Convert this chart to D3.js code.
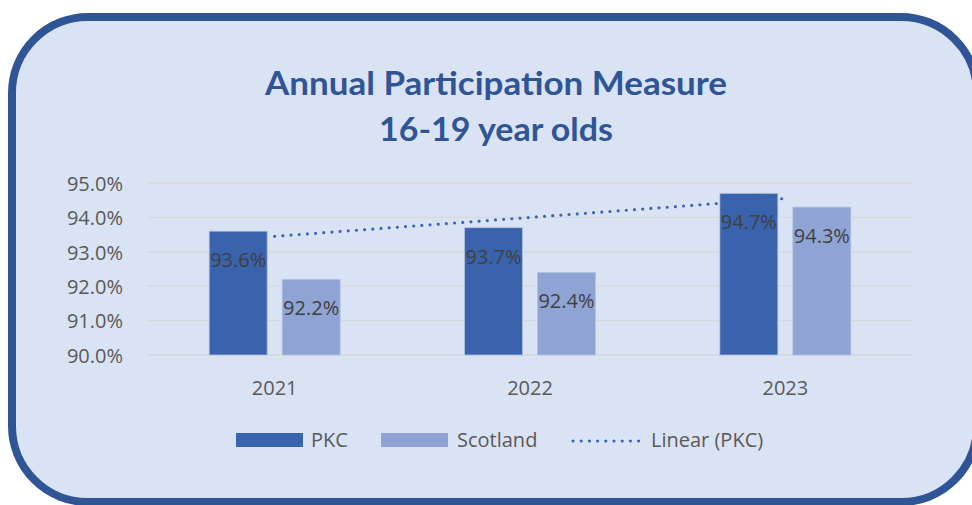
<!DOCTYPE html>
<html>
<head>
<meta charset="utf-8">
<script src="https://cdn.jsdelivr.net/npm/d3@7"></script>
<style>
  html, body { margin: 0; padding: 0; background: #ffffff; }
  svg { display: block; }
</style>
</head>
<body>
<svg id="chart" width="972" height="505"></svg>
<script>
// ---- data ----
const categories = ["2021", "2022", "2023"];
const seriesNames = ["PKC", "Scotland"];
const pkcValues = [93.6, 93.7, 94.7];
const scotlandValues = [92.2, 92.4, 94.3];
const yTicks = [90, 91, 92, 93, 94, 95];
const titleLines = ["Annual Participation Measure", "16-19 year olds"];
const legendLabels = ["PKC", "Scotland", "Linear (PKC)"];

// ---- styles ----
const colors = { PKC: "#3A63AD", Scotland: "#8FA4D5" };
const trendColor = "#3D66B4";
const textGrey = "#595959";
const font = "'Open Sans', 'DejaVu Sans', sans-serif";

const svg = d3.select("#chart");

// background rounded frame
svg.append("rect")
  .attr("x", 12).attr("y", 17)
  .attr("width", 965).attr("height", 485)
  .attr("rx", 76).attr("ry", 76)
  .attr("fill", "#DAE3F3")
  .attr("stroke", "#2F5597")
  .attr("stroke-width", 8);

// title
const title = svg.append("g");
titleLines.forEach((t, i) => {
  title.append("text")
    .attr("x", 496)
    .attr("y", i === 0 ? 95 : 141)
    .attr("text-anchor", "middle")
    .attr("font-family", "Lato, 'Open Sans', sans-serif")
    .attr("font-weight", "bold")
    .attr("font-size", 33)
    .attr("fill", "#2F5597")
    .attr("textLength", i === 0 ? 462 : 234)
    .attr("lengthAdjust", "spacingAndGlyphs")
    .text(t);
});

// scales
const x = d3.scaleBand().domain(categories).range([147, 913]).padding(0);
const xSub = d3.scaleBand().domain(seriesNames).range([0, x.bandwidth()])
  .paddingInner(0.205).paddingOuter(0.852);
const y = d3.scaleLinear().domain([90, 95]).range([355, 183]);

// gridlines
svg.append("g").selectAll("line").data(yTicks).join("line")
  .attr("x1", 147).attr("x2", 913)
  .attr("y1", d => y(d)).attr("y2", d => y(d))
  .attr("stroke", "#D5D8DE").attr("stroke-width", 1.3);

// y axis labels
const yAxis = d3.axisLeft(y).tickValues(yTicks)
  .tickFormat(d => d3.format(".1f")(d) + "%").tickSize(0).tickPadding(0);
const yg = svg.append("g").attr("transform", "translate(123,0)").call(yAxis);
yg.select(".domain").remove();
yg.selectAll("text")
  .attr("font-family", font).attr("font-size", 20).attr("fill", textGrey)
  .attr("dy", "0.36em");

// x axis labels
const xAxis = d3.axisBottom(x).tickSize(0).tickPadding(0);
const xg = svg.append("g").attr("transform", "translate(0,395)").call(xAxis);
xg.select(".domain").remove();
xg.selectAll("text")
  .attr("font-family", font).attr("font-size", 20).attr("fill", textGrey)
  .attr("dy", 0);

// bars
const rows = categories.map((c, i) => ({
  cat: c,
  vals: [
    { series: "PKC", value: pkcValues[i] },
    { series: "Scotland", value: scotlandValues[i] }
  ]
}));

const groups = svg.append("g").selectAll("g").data(rows).join("g")
  .attr("transform", d => `translate(${x(d.cat)},0)`);

groups.selectAll("rect").data(d => d.vals).join("rect")
  .attr("x", d => xSub(d.series))
  .attr("width", xSub.bandwidth())
  .attr("y", d => y(d.value))
  .attr("height", d => y(90) - y(d.value))
  .attr("fill", d => colors[d.series])
  .attr("stroke", "#B4C3E2")
  .attr("stroke-width", 0.8);

// trendline (linear fit of PKC)
const n = pkcValues.length;
const xs = d3.range(1, n + 1);
const mx = d3.mean(xs), my = d3.mean(pkcValues);
const slope = d3.sum(xs.map((xi, i) => (xi - mx) * (pkcValues[i] - my))) /
              d3.sum(xs.map(xi => (xi - mx) * (xi - mx)));
const intercept = my - slope * mx;
const trendPts = categories.map((c, i) => [x(c) + x.bandwidth() / 2, y(intercept + slope * (i + 1))]);

svg.append("path")
  .attr("d", d3.line()(trendPts))
  .attr("fill", "none")
  .attr("stroke", trendColor)
  .attr("stroke-width", 3.2)
  .attr("stroke-linecap", "round")
  .attr("stroke-dasharray", "0 8.2");

// data labels
groups.selectAll("text.lbl").data(d => d.vals).join("text")
  .attr("class", "lbl")
  .attr("x", d => xSub(d.series) + xSub.bandwidth() / 2)
  .attr("y", d => y(d.value) + 36)
  .attr("text-anchor", "middle")
  .attr("font-family", font).attr("font-size", 20)
  .attr("fill", "#404040")
  .text(d => d3.format(".1f")(d.value) + "%");

// legend
const lg = svg.append("g");
const swatches = [
  { x: 236, label: legendLabels[0], tx: 311, color: colors.PKC },
  { x: 381, label: legendLabels[1], tx: 457, color: colors.Scotland }
];
swatches.forEach(s => {
  lg.append("rect").attr("x", s.x).attr("y", 433).attr("width", 67).attr("height", 14)
    .attr("fill", s.color);
  lg.append("text").attr("x", s.tx).attr("y", 447)
    .attr("font-family", font).attr("font-size", 20).attr("fill", textGrey)
    .text(s.label);
});
lg.append("line").attr("x1", 573).attr("x2", 639).attr("y1", 441).attr("y2", 441)
  .attr("stroke", trendColor).attr("stroke-width", 3.2)
  .attr("stroke-linecap", "round").attr("stroke-dasharray", "0 8.2");
lg.append("text").attr("x", 651).attr("y", 447)
  .attr("font-family", font).attr("font-size", 20).attr("fill", textGrey)
  .text(legendLabels[2]);
</script>
</body>
</html>
